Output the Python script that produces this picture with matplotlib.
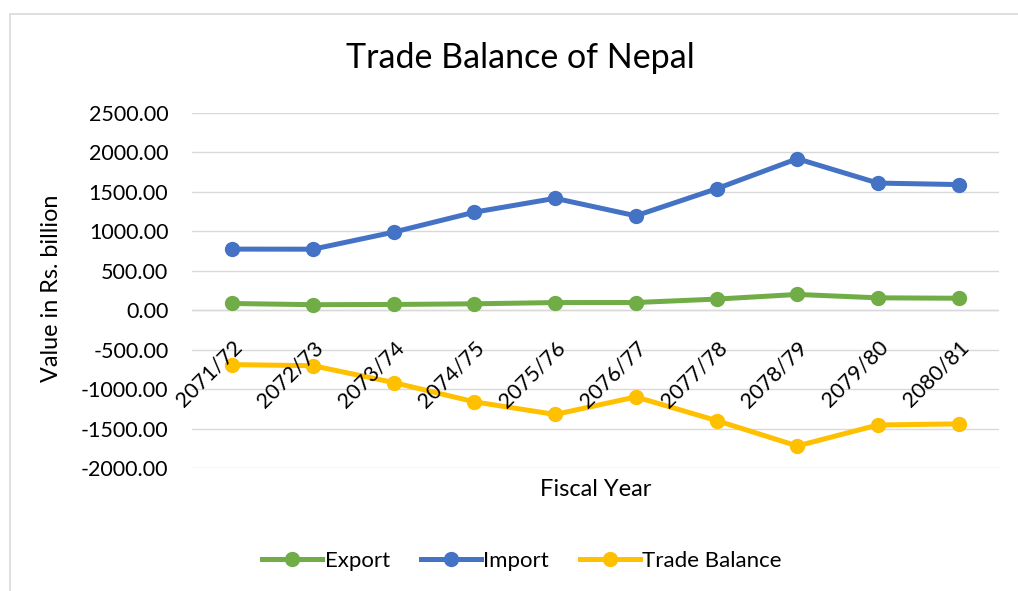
import matplotlib
matplotlib.use("Agg")
import matplotlib.pyplot as plt
from matplotlib.patches import Rectangle
from matplotlib.ticker import FuncFormatter
import matplotlib.transforms as mtransforms

plt.rcParams["font.family"] = ["Lato", "DejaVu Sans"]

years = ["2071/72", "2072/73", "2073/74", "2074/75", "2075/76",
         "2076/77", "2077/78", "2078/79", "2079/80", "2080/81"]
export = [85.3, 70.1, 73.0, 81.4, 97.1, 97.7, 141.1, 200.0, 157.1, 152.0]
imports = [774.7, 773.6, 990.1, 1242.8, 1418.5, 1196.8, 1539.8, 1920.4, 1611.7, 1592.7]
balance = [-689.4, -703.5, -917.1, -1161.4, -1321.4, -1099.1, -1398.7, -1720.4, -1454.6, -1440.7]

GREEN, BLUE, GOLD = "#70AD47", "#4472C4", "#FFC000"
GRID = "#D9D9D9"

fig = plt.figure(figsize=(10.18, 5.91), dpi=100)
fig.patches.append(Rectangle((10 / 1018, -0.1), 1.2, 1.1 - 14 / 591,
                             transform=fig.transFigure, fill=False,
                             edgecolor="#D9D9D9", linewidth=1.2))
ax = fig.add_axes([192 / 1018, 1 - 468 / 591, 807 / 1018, 355 / 591])

x = list(range(len(years)))
for vals, c, lab in [(export, GREEN, "Export"), (imports, BLUE, "Import"),
                     (balance, GOLD, "Trade Balance")]:
    ax.plot(x, vals, color=c, lw=3.6, marker="o", ms=10, label=lab, zorder=3)

ax.set_xlim(-0.5, len(years) - 0.5)
ax.set_ylim(-2000, 2500)
ax.set_yticks(range(-2000, 2501, 500))
ax.yaxis.set_major_formatter(FuncFormatter(lambda v, p: f"{v:.2f}"))
ax.grid(axis="y", color=GRID, lw=1)
ax.set_axisbelow(True)
for s in ax.spines.values():
    s.set_visible(False)
ax.axhline(0, color=GRID, lw=1, zorder=1)
ax.tick_params(axis="y", length=0, labelsize=15.5, pad=17)
ax.set_xticks([])

# rotated category labels hang just under the zero line
off = mtransforms.offset_copy(ax.transData, fig=fig, x=0, y=-27, units="dots")
for xi, lab in zip(x, years):
    ax.text(xi, 0, lab, transform=off, rotation=45, ha="right", va="top",
            rotation_mode="anchor", fontsize=15.5)

fig.text(52 / 1018, 1 - 288 / 591, "Value in Rs. billion", rotation=90,
         ha="center", va="center", fontsize=16.8)
fig.text(596 / 1018, 1 - 490 / 591, "Fiscal Year", ha="center", va="center",
         fontsize=17)
fig.text(520 / 1018, 1 - 58 / 591, "Trade Balance of Nepal", ha="center",
         va="center", fontsize=24.5)

fig.legend(loc="center", bbox_to_anchor=(522 / 1018, 1 - 561 / 591), ncol=3,
           frameon=False, fontsize=16, handlelength=2.7, handletextpad=0.1,
           columnspacing=1.4)

fig.savefig("out.png", dpi=100)
